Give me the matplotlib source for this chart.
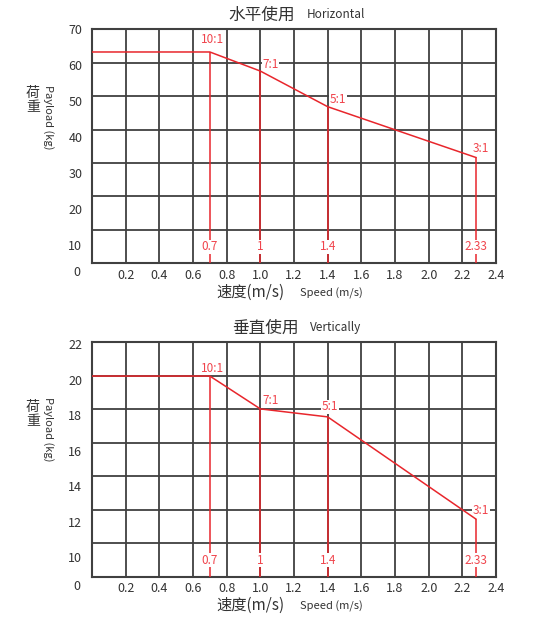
import matplotlib.pyplot as plt
import numpy as np

plt.rcParams['font.family'] = ['Noto Sans CJK SC', 'DejaVu Sans']

# speed points (m/s) where the curve breaks, as drawn, and their printed labels
speed_pts = [0.0, 0.7, 1.0, 1.4, 2.28]
speed_labels = ['0.7', '1', '1.4', '2.33']
ratio_labels = ['10:1', '7:1', '5:1', '3:1']

# payload (kg)
payload_h = [63.7, 63.7, 58.4, 48.5, 34.4]
payload_v = [20.2, 20.2, 18.35, 17.9, 12.15]

x_ticks = [0.2, 0.4, 0.6, 0.8, 1.0, 1.2, 1.4, 1.6, 1.8, 2.0, 2.2, 2.4]
y_ticks_h = [10, 20, 30, 40, 50, 60, 70]
y_ticks_v = [10, 12, 14, 16, 18, 20, 22]

RED = '#e8262c'
LRED = '#f0444c'
GRID = '#404040'
TXT = '#333333'

W, H = 533, 617
fig = plt.figure(figsize=(W / 100, H / 100), dpi=100)
fig.patch.set_facecolor('white')


def px(x, y):
    return x / W, 1 - y / H


def draw_panel(ax, payload, yticks, ylim, label_offsets):
    ax.set_xlim(0, 2.4)
    ax.set_ylim(*ylim)

    # grid: vertical every 0.2, horizontal 7 equal rows
    ax.set_xticks(x_ticks)
    ax.set_xticklabels([f'{v:.1f}' for v in x_ticks], fontsize=9, color=TXT)
    ax.set_yticks(yticks)
    ax.set_yticklabels([str(v) for v in yticks], fontsize=9, color=TXT)
    ax.set_yticks(np.linspace(ylim[0], ylim[1], 8), minor=True)
    ax.tick_params(axis='both', which='both', length=0)
    ax.tick_params(axis='x', pad=4)
    ax.tick_params(axis='y', pad=7)
    ax.grid(True, axis='x', which='major', color=GRID, lw=1.3)
    ax.grid(True, axis='y', which='minor', color=GRID, lw=1.3)
    ax.grid(False, axis='y', which='major')
    for s in ax.spines.values():
        s.set_color(GRID)
        s.set_linewidth(1.5)

    # origin label
    ax.text(-0.037, -0.04, '0', transform=ax.transAxes, ha='center', va='center',
            fontsize=9, color=TXT)

    # payload curve
    ax.plot(speed_pts, payload, color=RED, lw=1.1, zorder=5)
    ax.vlines(speed_pts[1:], ylim[0], payload[1:], color=RED, lw=1.1, zorder=3)

    for i, (sx, sy) in enumerate(zip(speed_pts[1:], payload[1:])):
        dx, dy, ha = label_offsets[i]
        ax.annotate(ratio_labels[i], (sx, sy), xytext=(dx, dy), textcoords='offset pixels',
                    ha=ha, va='center', fontsize=8.5, color=LRED, zorder=4,
                    bbox=dict(boxstyle='square,pad=0.05', fc='white', ec='none'))
        ax.text(sx, 0.07, speed_labels[i], transform=ax.get_xaxis_transform(),
                ha='center', va='center', fontsize=8.5, color=LRED, zorder=4,
                bbox=dict(boxstyle='square,pad=0.05', fc='white', ec='none'))


ax1 = fig.add_axes([0.1726, 0.5733, 0.758, 0.3792])
draw_panel(ax1, payload_h, y_ticks_h, (5, 70),
           [(3, 12, 'center'), (2, 7, 'left'), (2, 7, 'left'), (-3, 9, 'left')])

ax2 = fig.add_axes([0.1726, 0.0653, 0.758, 0.3799])
draw_panel(ax2, payload_v, y_ticks_v, (8.9, 22.1),
           [(3, 8, 'center'), (2, 8, 'left'), (2, 10, 'center'), (-3, 8, 'left')])

# titles and axis labels
for (tx, ty, zh, en), (yl_y, pl_y, xl_y) in zip(
        [(262, 15, '水平使用', 'Horizontal'), (265, 328, '垂直使用', 'Vertically')],
        [(100, 117, 292), (414, 429, 605)]):
    fig.text(*px(tx, ty), zh, ha='center', va='center', fontsize=12, color=TXT)
    fig.text(*px(tx + 45, ty), en, ha='left', va='center', fontsize=8.5, color=TXT)
    fig.text(*px(33, yl_y), '荷\n重', ha='center', va='center', fontsize=10,
             color=TXT, linespacing=1.0)
    fig.text(*px(48, pl_y), 'Payload (kg)', ha='center', va='center', fontsize=8,
             color=TXT, rotation=270)
    fig.text(*px(250, xl_y), '速度(m/s)', ha='center', va='center', fontsize=11, color=TXT)
    fig.text(*px(300, xl_y + 1), 'Speed (m/s)', ha='left', va='center', fontsize=8,
             color=TXT)

plt.savefig('out.png', dpi=100)
